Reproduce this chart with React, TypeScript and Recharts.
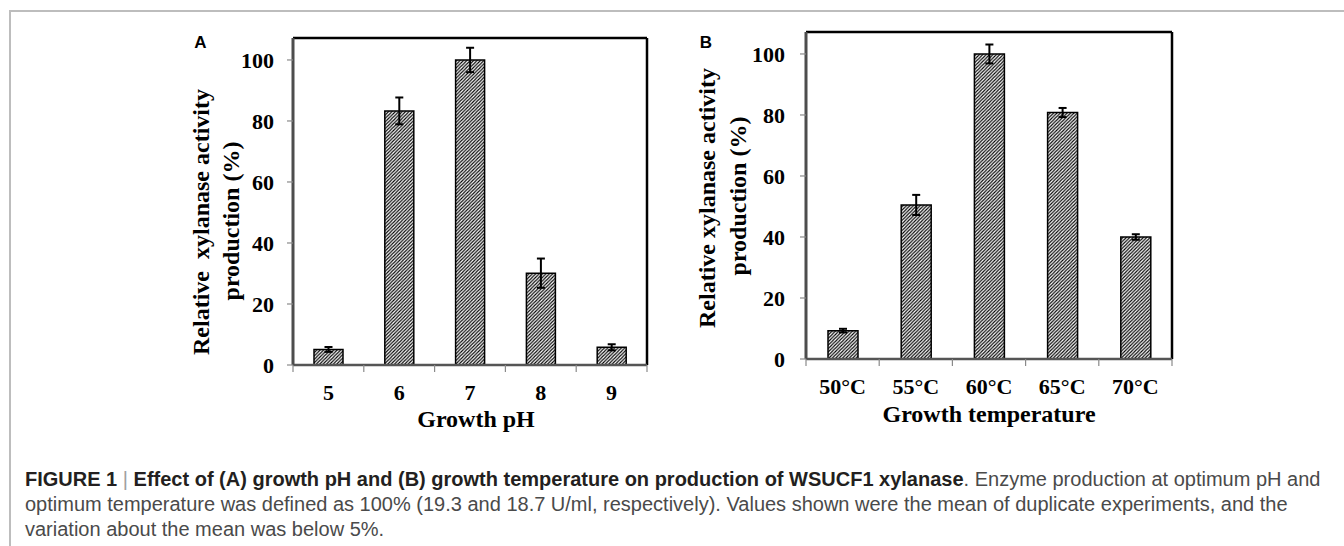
import React from 'react';
import { BarChart, Bar, XAxis, YAxis, ErrorBar, CartesianGrid } from 'recharts';

const phCategories = ['5', '6', '7', '8', '9'];
const phValues = [5.1, 83.3, 100, 30.1, 5.8];
const phErrors = [0.8, 4.4, 4.0, 4.8, 1.0];

const tempCategories = ['50°C', '55°C', '60°C', '65°C', '70°C'];
const tempValues = [9.3, 50.5, 100, 80.8, 40.0];
const tempErrors = [0.6, 3.3, 3.1, 1.5, 0.9];

const yTicks = [0, 20, 40, 60, 80, 100];
const yMax = 107.2;

const phData = phCategories.map((c, i) => ({ cat: c, value: phValues[i], err: phErrors[i] }));
const tempData = tempCategories.map((c, i) => ({ cat: c, value: tempValues[i], err: tempErrors[i] }));

const SERIF = '"Liberation Serif", "Times New Roman", serif';
const SANS = '"Liberation Sans", Arial, Helvetica, sans-serif';

const CatTick = (props: any) => {
  const { x, y, payload, index, visibleTicksCount, fallbackHalf } = props;
  const half = payload && typeof payload.offset === 'number' && payload.offset > 0 ? payload.offset : fallbackHalf;
  const isLast = index === (visibleTicksCount ?? 5) - 1;
  return (
    <g>
      <line x1={x - half} x2={x - half} y1={y} y2={y + 7} stroke="#8a8a8a" strokeWidth={1.2} />
      {isLast && <line x1={x + half} x2={x + half} y1={y} y2={y + 7} stroke="#8a8a8a" strokeWidth={1.2} />}
      <text
        x={x}
        y={y + 27}
        textAnchor="middle"
        dominantBaseline="central"
        fill="#000"
        fontSize={22}
        fontWeight="bold"
        fontFamily={SERIF}
      >
        {payload.value}
      </text>
    </g>
  );
};

const Hatch = ({ id }: { id: string }) => (
  <defs>
    <pattern id={id} patternUnits="userSpaceOnUse" width={3.4} height={3.4}>
      <rect x={0} y={0} width={3.4} height={3.4} fill="#fff" />
      <path d="M-1,1 L1,-1 M0,3.4 L3.4,0 M2.4,4.4 L4.4,2.4" stroke="#000" strokeWidth={1.15} />
    </pattern>
  </defs>
);

type PanelProps = {
  data: any[];
  width: number;
  height: number;
  top: number;
  right: number;
  yAxisWidth: number;
  xAxisHeight: number;
  tickMargin: number;
  barSize: number;
  hatchId: string;
};

const Panel = ({ data, width, height, top, right, yAxisWidth, xAxisHeight, tickMargin, barSize, hatchId }: PanelProps) => {
  const plotW = width - yAxisWidth - right;
  const fallbackHalf = plotW / data.length / 2;
  return (
    <BarChart width={width} height={height} data={data} margin={{ top, right, bottom: 0, left: 0 }}>
      <Hatch id={hatchId} />
      <CartesianGrid
        stroke="#000"
        strokeWidth={2.5}
        horizontalCoordinatesGenerator={({ offset }: any) => [offset.top]}
        verticalCoordinatesGenerator={({ offset }: any) => [offset.left + offset.width]}
      />
      <XAxis
        dataKey="cat"
        height={xAxisHeight}
        interval={0}
        tickSize={0}
        tickMargin={0}
        tickLine={false}
        axisLine={{ stroke: '#555', strokeWidth: 2.5 }}
        tick={<CatTick fallbackHalf={fallbackHalf} />}
      />
      <YAxis
        type="number"
        width={yAxisWidth}
        domain={[0, yMax]}
        ticks={yTicks}
        interval={0}
        allowDataOverflow
        tickSize={6}
        tickMargin={tickMargin}
        tickLine={{ stroke: '#8a8a8a', strokeWidth: 1.2 }}
        axisLine={{ stroke: '#4d4d4d', strokeWidth: 3 }}
        tick={{ fill: '#000', fontSize: 22, fontWeight: 'bold', fontFamily: SERIF }}
      />
      <Bar
        dataKey="value"
        barSize={barSize}
        fill={`url(#${hatchId})`}
        stroke="#000"
        strokeWidth={1.5}
        isAnimationActive={false}
      >
        <ErrorBar dataKey="err" width={4} stroke="#000" strokeWidth={2} />
      </Bar>
    </BarChart>
  );
};

const abs = (left: number, top: number): React.CSSProperties => ({ position: 'absolute', left, top });

const VTitle = ({ cx, cy, text }: { cx: number; cy: number; text: string }) => (
  <div
    style={{
      ...abs(cx, cy),
      transform: 'translate(-50%, -50%) rotate(-90deg)',
      whiteSpace: 'pre',
      fontFamily: SERIF,
      fontWeight: 'bold',
      fontSize: 24,
      lineHeight: '24px',
      color: '#000',
    }}
  >
    {text}
  </div>
);

const HTitle = ({ cx, cy, text }: { cx: number; cy: number; text: string }) => (
  <div
    style={{
      ...abs(cx, cy),
      transform: 'translate(-50%, -50%)',
      whiteSpace: 'pre',
      fontFamily: SERIF,
      fontWeight: 'bold',
      fontSize: 24,
      lineHeight: '24px',
      color: '#000',
    }}
  >
    {text}
  </div>
);

const PanelLetter = ({ cx, cy, text }: { cx: number; cy: number; text: string }) => (
  <div
    style={{
      ...abs(cx, cy),
      transform: 'translate(-50%, -50%)',
      fontFamily: SANS,
      fontWeight: 'bold',
      fontSize: 17,
      lineHeight: '17px',
      color: '#000',
    }}
  >
    {text}
  </div>
);

export default function App() {
  return (
    <div
      style={{
        position: 'absolute',
        left: 0,
        top: 0,
        width: 1344,
        height: 546,
        overflow: 'hidden',
        background: '#fff',
      }}
    >
      <div
        style={{
          ...abs(9, 10),
          width: 1400,
          height: 600,
          borderTop: '2px solid #bdbdbd',
          borderLeft: '2px solid #bdbdbd',
        }}
      />

      <div style={abs(150, 0)}>
        <Panel
          data={phData}
          width={510}
          height={440}
          top={38}
          right={13}
          yAxisWidth={143}
          xAxisHeight={75}
          tickMargin={13}
          barSize={29}
          hatchId="hatchA"
        />
      </div>
      <div style={abs(660, 0)}>
        <Panel
          data={tempData}
          width={530}
          height={440}
          top={32}
          right={18}
          yAxisWidth={146}
          xAxisHeight={81}
          tickMargin={15}
          barSize={30}
          hatchId="hatchB"
        />
      </div>

      <PanelLetter cx={200.5} cy={42} text="A" />
      <PanelLetter cx={706} cy={42} text="B" />

      <VTitle cx={201} cy={222} text="Relative  xylanase activity" />
      <VTitle cx={231} cy={221} text="production (%)" />
      <VTitle cx={707} cy={198} text="Relative xylanase activity" />
      <VTitle cx={738} cy={196} text="production (%)" />

      <HTitle cx={476} cy={419} text="Growth pH" />
      <HTitle cx={989} cy={414} text="Growth temperature" />

      <div
        style={{
          ...abs(25, 467),
          fontFamily: SANS,
          fontSize: 20,
          lineHeight: '25px',
          color: '#4a4a4a',
          whiteSpace: 'nowrap',
        }}
      >
        <span style={{ fontWeight: 'bold', color: '#231f20' }}>FIGURE 1</span>
        <span style={{ color: '#a0a0a0' }}> | </span>
        <span style={{ fontWeight: 'bold', color: '#231f20' }}>
          Effect of (A) growth pH and (B) growth temperature on production of WSUCF1 xylanase
        </span>
        . Enzyme production at optimum pH and
        <br />
        optimum temperature was defined as 100% (19.3 and 18.7 U/ml, respectively). Values shown were the mean of duplicate experiments, and the
        <br />
        variation about the mean was below 5%.
      </div>
    </div>
  );
}
